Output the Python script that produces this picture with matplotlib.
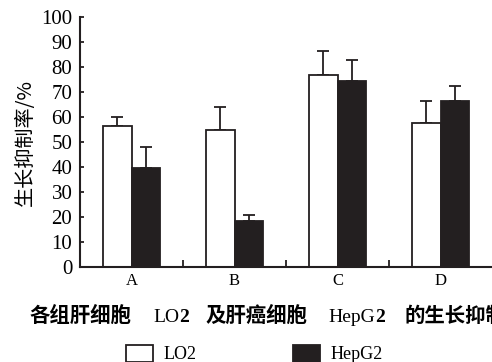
import matplotlib
matplotlib.use("Agg")
import matplotlib.pyplot as plt
import numpy as np

groups = ["A", "B", "C", "D"]
lo2_vals = [56.4, 54.8, 76.7, 57.5]
lo2_err = [3.7, 9.3, 9.7, 8.9]
hepg2_vals = [39.5, 18.4, 74.4, 66.4]
hepg2_err = [8.4, 2.4, 8.4, 6.0]
yticks = list(range(0, 101, 10))

serif = "Liberation Serif"
cjk = "Noto Sans CJK SC"
dark = "#231f20"

fig = plt.figure(figsize=(4.92, 3.62), dpi=100)
ax = fig.add_axes([80 / 492, 1 - 267 / 362, 1 - 80 / 492, (267 - 17) / 362])

x = np.arange(len(groups))
w = 0.28
b1 = ax.bar(x - w / 2, lo2_vals, w, color="white", edgecolor=dark, linewidth=1.3, label="LO2", zorder=2)
b2 = ax.bar(x + w / 2, hepg2_vals, w, color=dark, edgecolor=dark, linewidth=1.3, label="HepG2", zorder=2)
ax.errorbar(x - w / 2, lo2_vals, yerr=[np.zeros(4), lo2_err], fmt="none",
            ecolor=dark, elinewidth=1.3, capsize=4.5, capthick=1.3, zorder=1)
ax.errorbar(x + w / 2, hepg2_vals, yerr=[np.zeros(4), hepg2_err], fmt="none",
            ecolor=dark, elinewidth=1.3, capsize=4.5, capthick=1.3, zorder=1)

ax.set_xlim(-0.5, 3.5)
ax.set_ylim(0, 100)
ax.set_yticks(yticks)
ax.set_yticklabels([str(t) for t in yticks], fontfamily=serif, fontsize=15)
ax.set_xticks(x)
ax.set_xticklabels(groups, fontfamily=serif, fontsize=12)
ax.tick_params(axis="x", length=0, pad=4)
ax.set_xticks(x[:-1] + 0.5, minor=True)
ax.tick_params(axis="x", which="minor", direction="in", length=5, width=1.3, color=dark)
ax.tick_params(axis="y", direction="in", length=3, width=1.3, color=dark, pad=5.5)
for s in ["top", "right"]:
    ax.spines[s].set_visible(False)
for s in ["left", "bottom"]:
    ax.spines[s].set_linewidth(1.5)
    ax.spines[s].set_color(dark)
ax.set_ylabel("生长抑制率/%", fontfamily=[cjk, "DejaVu Sans"], fontsize=14.5, fontweight="light", labelpad=4)

# caption pieces: (text, left x in pixels or None to follow previous, family, weight, size)
pieces = [("各组肝细胞", 30, cjk, "bold", 14.7),
          ("LO", 153, serif, "normal", 14), ("2", None, serif, "bold", 14),
          ("及肝癌细胞", 205, cjk, "bold", 14.7),
          ("HepG", 328, serif, "normal", 14), ("2", None, serif, "bold", 14),
          ("的生长抑制率", 405, cjk, "bold", 14.7)]
base_y = 1 - 322 / 362
fig.canvas.draw()
r = fig.canvas.get_renderer()
cur = 0
for txt, px, fam, wt, sz in pieces:
    left = px if px is not None else cur
    t = fig.text(left / 492, base_y, txt, fontfamily=fam, fontweight=wt, fontsize=sz,
                 va="baseline", ha="left")
    cur = t.get_window_extent(r).x1

fig.legend(handles=[b1, b2], labels=["LO2", "HepG2"], loc="center left",
           bbox_to_anchor=(117 / 492, 1 - 354 / 362), ncol=2, frameon=False,
           prop={"family": serif, "size": 13}, handlelength=1.5, handleheight=1.1,
           columnspacing=5.3, handletextpad=0.6, borderpad=0)

fig.savefig("out.png", dpi=100)
